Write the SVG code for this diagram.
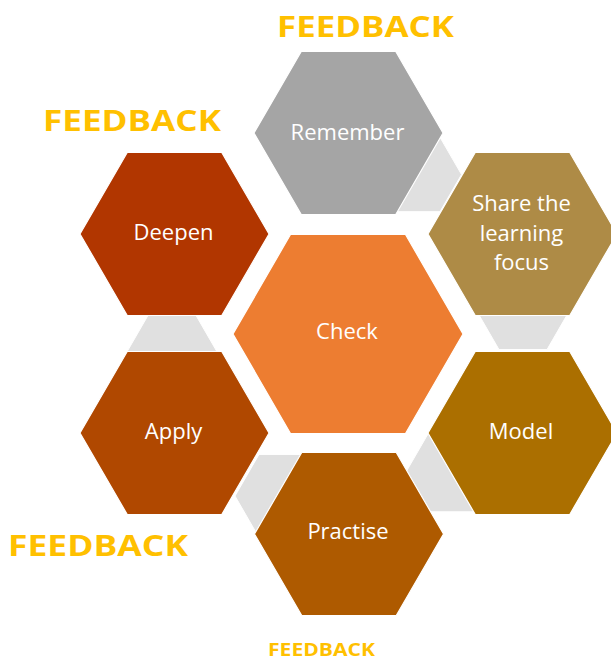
<svg xmlns="http://www.w3.org/2000/svg" xmlns:xlink="http://www.w3.org/1999/xlink" width="611" height="662" viewBox="0 0 611 662">
  <style>
    .hex { stroke: #ffffff; stroke-width: 1.2; }
    .link { fill: #e0e0e0; stroke: #ffffff; stroke-width: 1; }
    .label { font-family: "Open Sans", "Noto Sans", sans-serif; font-size: 22px; fill: #ffffff; text-anchor: middle; }
    .fb { font-family: "Open Sans", "Noto Sans", sans-serif; font-weight: bold; font-size: 28px; fill: #ffc000; }
  </style>
  <defs>
    <!-- regular flat-topped hexagons, centred on the origin -->
    <polygon id="hexS" points="-94.5,0 -47.25,-81.5 47.25,-81.5 94.5,0 47.25,81.5 -47.25,81.5"/>
    <polygon id="hexL" points="-115,0 -57.5,-99.5 57.5,-99.5 115,0 57.5,99.5 -57.5,99.5"/>
  </defs>

  <rect width="611" height="662" fill="#ffffff"/>

  <!-- small grey link hexagons, drawn behind the ring -->
  <g id="connectors">
    <polygon class="link" points="375.5,174.5 397,137.3 440,137.3 461.5,174.5 440,211.7 397,211.7"/>
    <polygon class="link" points="475,308 499,266.4 547,266.4 571,308 547,349.6 499,349.6"/>
    <polygon class="link" points="406,472 429,432.2 475,432.2 498,472 475,511.8 429,511.8"/>
    <polygon class="link" points="235,496 259,454.4 307,454.4 331,496 307,537.6 259,537.6"/>
    <polygon class="link" points="124,357 148,315.4 196,315.4 220,357 196,398.6 148,398.6"/>
  </g>

  <g id="remember">
    <use xlink:href="#hexS" href="#hexS" class="hex" x="348.5" y="133" fill="#a5a5a5"/>
    <text class="label" x="347.5" y="140">Remember</text>
  </g>
  <g id="share">
    <use xlink:href="#hexS" href="#hexS" class="hex" x="522.5" y="234" fill="#ae8b46"/>
    <text class="label" x="521.5" y="211">Share the</text>
    <text class="label" x="521.5" y="241">learning</text>
    <text class="label" x="521.5" y="270">focus</text>
  </g>
  <g id="model">
    <use xlink:href="#hexS" href="#hexS" class="hex" x="522.5" y="433" fill="#ab6f00"/>
    <text class="label" x="521" y="439">Model</text>
  </g>
  <g id="practise">
    <use xlink:href="#hexS" href="#hexS" class="hex" x="349" y="534" fill="#ae5a00"/>
    <text class="label" x="348" y="539">Practise</text>
  </g>
  <g id="apply">
    <use xlink:href="#hexS" href="#hexS" class="hex" x="174.5" y="433" fill="#b04800"/>
    <text class="label" x="173.5" y="439">Apply</text>
  </g>
  <g id="deepen">
    <use xlink:href="#hexS" href="#hexS" class="hex" x="174.5" y="234" fill="#b13600"/>
    <text class="label" x="173.5" y="240">Deepen</text>
  </g>
  <g id="check">
    <use xlink:href="#hexL" href="#hexL" class="hex" x="348" y="334" fill="#ed7d31"/>
    <text class="label" x="347" y="339">Check</text>
  </g>

  <g id="feedback-labels">
    <text class="fb" x="277" y="37" textLength="177" lengthAdjust="spacingAndGlyphs">FEEDBACK</text>
    <text class="fb" x="43" y="131" textLength="178" lengthAdjust="spacingAndGlyphs">FEEDBACK</text>
    <text class="fb" x="8" y="556" textLength="180" lengthAdjust="spacingAndGlyphs">FEEDBACK</text>
    <text class="fb" x="268" y="656" style="font-size:18px" textLength="107" lengthAdjust="spacingAndGlyphs">FEEDBACK</text>
  </g>
</svg>
